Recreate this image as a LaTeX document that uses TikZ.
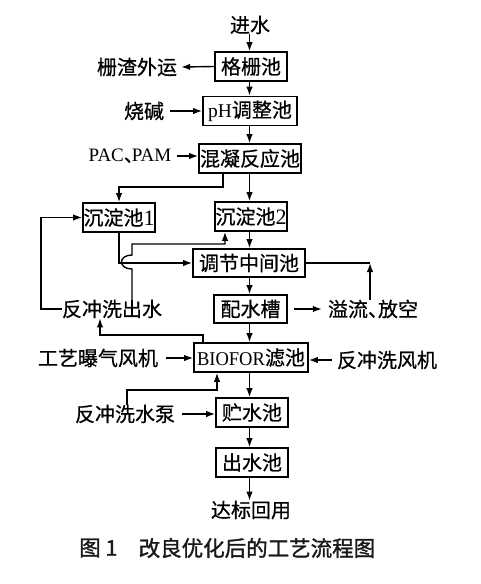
\documentclass[tikz,border=0pt]{standalone}
\usepackage{fontspec}
\setmainfont{Liberation Serif}
\newfontfamily\cjk[FakeBold=0.6]{Noto Sans CJK SC}
\newfontfamily\cjkcap[FakeBold=1.4]{Noto Sans CJK SC}
\usetikzlibrary{arrows.meta,calc}
\newcommand{\dun}[1]{\makebox[#1][l]{\cjk 、}}
\newcommand{\lt}[1]{{\rmfamily\fontsize{19.5}{19.5}\selectfont #1}}
\newcommand{\dg}[1]{{\rmfamily\fontsize{22}{22}\selectfont #1}}
\begin{document}
\begin{tikzpicture}[x=1pt,y=-1pt,
  txt/.style={inner sep=0pt, font=\cjk\fontsize{20}{20}\selectfont},
  box/.style={txt, draw, line width=1.7pt},
  arr/.style={line width=1.4pt, -{Latex[length=9pt,width=6.5pt]}},
  ln/.style={line width=1.4pt},
  lat/.style={font=\rmfamily\fontsize{19}{19}\selectfont},
  captxt/.style={inner sep=0pt, text=black!90, font=\cjkcap\fontsize{21.5}{21.5}\selectfont}]
\fill[white] (0,0) rectangle (480,584);
\useasboundingbox (0,0) rectangle (480,584);
% axis
\coordinate (ax) at (249.5,0);
% boxes
\node[box, minimum width=72pt, minimum height=29pt] (g) at (251,66.5) {格栅池};
\node[box, minimum width=94pt, minimum height=29pt] (ph) at (250,111) {\lt{pH}调整池};
\node[box, minimum width=102pt, minimum height=29pt] (hn) at (250,158.5) {混凝反应池};
\node[box, minimum width=72pt, minimum height=29pt] (c1) at (119,217.5) {沉淀池\dg{1}};
\node[box, minimum width=72pt, minimum height=29pt] (c2) at (251,216.5) {沉淀池\dg{2}};
\node[box, minimum width=112pt, minimum height=28pt] (tj) at (249,263) {调节中间池};
\node[box, minimum width=73pt, minimum height=28pt] (ps) at (250.5,309) {配水槽};
\node[box, minimum width=114pt, minimum height=29pt] (bio) at (251,357.5) {\scalebox{0.95}[1]{\lt{BIOFOR}}滤池};
\node[box, minimum width=72pt, minimum height=29pt] (zs) at (252,412.5) {贮水池};
\node[box, minimum width=72pt, minimum height=29pt] (cs) at (252,462.5) {出水池};
% labels
\node[txt] (jin) at (250,25) {进水};
\node[txt] (zz) at (137,67) {栅渣外运};
\node[txt] (sj) at (144,111) {烧碱};
\node[txt, lat] (pac) at (130,156) {PAC\dun{8pt}PAM};
\node[txt] (fc) at (112,309) {反冲洗出水};
\node[txt] (yl) at (373,309) {溢流\dun{10pt}放空};
\node[txt] (gy) at (98,358) {工艺曝气风机};
\node[txt] (ff) at (387,360) {反冲洗风机};
\node[txt] (sb) at (125,414) {反冲洗水泵};
\node[txt] (db) at (251,510) {达标回用};
\node[captxt, anchor=west] (cap1) at (79,548) {图 1};
\node[captxt, anchor=west] (cap2) at (138.5,548) {改良优化后的工艺流程图};
% bend coordinates
\coordinate (s1) at (223,187);
\coordinate (l1) at (41,309);
\coordinate (j1) at (132,269);
\coordinate (j2) at (132,255);
\coordinate (k0) at (132,244);
\coordinate (k1) at (225,244);
\coordinate (r1) at (370,263);
\coordinate (b1) at (203,335);
\coordinate (b2) at (100,335);
\coordinate (p1) at (127,390);
\coordinate (p2) at (217,390);
% main axis
\draw[arr] (jin.south -| ax) -- (g.north -| ax);
\draw[arr] (g.south -| ax) -- (ph.north -| ax);
\draw[arr] (ph.south -| ax) -- (hn.north -| ax);
\draw[arr] (hn.south -| ax) -- (c2.north -| ax);
\draw[arr] (c2.south -| ax) -- (tj.north -| ax);
\draw[arr] (tj.south -| ax) -- (ps.north -| ax);
\draw[arr] (ps.south -| ax) -- (bio.north -| ax);
\draw[arr] (bio.south -| ax) -- (zs.north -| ax);
\draw[arr] (zs.south -| ax) -- (cs.north -| ax);
\draw[arr] (cs.south -| ax) -- (db.north -| ax);
% side inputs/outputs
\draw[arr] (g.west) -- ([xshift=4pt]zz.east);
\draw[arr] ([xshift=6pt]sj.east) -- (sj.east -| ph.west);
\draw[arr] ([xshift=5pt]pac.east) -- (pac.east -| hn.west);
\draw[arr] ([xshift=6pt]ps.east) -- ([xshift=-6pt]yl.west);
\draw[arr] ([xshift=8pt]gy.east) -- (gy.east -| bio.west);
\draw[arr] ([xshift=-5pt]ff.west) -- (ff.west -| bio.east);
\draw[arr] ([xshift=7pt]sb.east) -- (sb.east -| zs.west);
% branches
\draw[arr] (hn.south -| s1) -- (s1) -| (c1.north);
\draw[arr] (fc.west) -- (l1) |- (c1.west);
\draw[arr] (c1.south) |- (tj.west);
\draw[arr] (fc.north -| j1) -- (j1) .. controls (118,269) and (118,255) .. (j2) -- (k0) -- (k1) -- (k1 |- c2.south);
\draw[ln] (tj.east) -- (r1);
\draw[arr] (yl.north -| r1) -- (r1);
\draw[arr] (bio.north -| b1) -- (b1) -- (b2) -- (b2 |- fc.south);
\draw[arr] (sb.north -| p1) -- (p1) -- (p2) -- (p2 |- bio.south);
\end{tikzpicture}
\end{document}
